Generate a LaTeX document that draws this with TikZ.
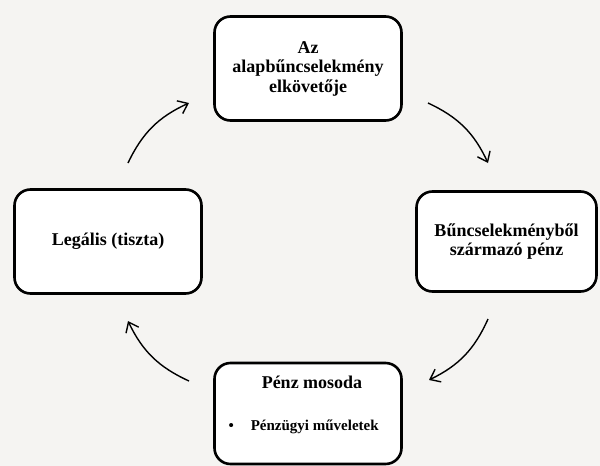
\documentclass[tikz,border=0pt]{standalone}
\usepackage{fontspec}
\setmainfont{Liberation Serif}
\usetikzlibrary{arrows.meta}

\begin{document}
\begin{tikzpicture}[x=1pt,y=-1pt]
\definecolor{custcol_bg}{RGB}{245,244,242}
\tikzset{stage/.style={draw=black, line width=2.6pt, fill=white, rounded corners=16pt, align=center,
    font=\bfseries\fontsize{18pt}{19.5pt}\selectfont},
  cycarrow/.style={line width=1.4pt, -{Straight Barb[length=9pt,width=14pt,line width=1.4pt]}, bend left=20}}
\fill[custcol_bg] (0,0) rectangle (600,466);
\node[stage, minimum width=187pt, minimum height=104pt] (elkoveto) at (308,68.5) {Az\\alapbűncselekmény\\elkövetője};
\node[stage, minimum width=180pt, minimum height=100pt] (bunpenz) at (506.5,241.5) {Bűncselekményből\\származó pénz};
\node[stage, minimum width=187pt, minimum height=101pt] (mosoda) at (308,413.5) {};
\node[stage, minimum width=187pt, minimum height=104pt] (legalis) at (108,241.5) {Legális (tiszta)};
\node[font=\bfseries\fontsize{18pt}{21pt}\selectfont] (mosodacim) at (312,382) {Pénz mosoda};
\node[font=\bfseries\fontsize{15pt}{17pt}\selectfont, anchor=west] (muvelet) at (225,427) {\textbullet\hspace{17pt}Pénzügyi műveletek};
% nyilak
\coordinate (a1) at (128,163); \coordinate (b1) at (189,103);
\coordinate (a2) at (428,103); \coordinate (b2) at (488,163);
\coordinate (a3) at (488,319); \coordinate (b3) at (429,380);
\coordinate (a4) at (189,381); \coordinate (b4) at (128,321);
\draw[cycarrow] (a1) to (b1);
\draw[cycarrow] (a2) to (b2);
\draw[cycarrow] (a3) to (b3);
\draw[cycarrow] (a4) to (b4);
\end{tikzpicture}
\end{document}
